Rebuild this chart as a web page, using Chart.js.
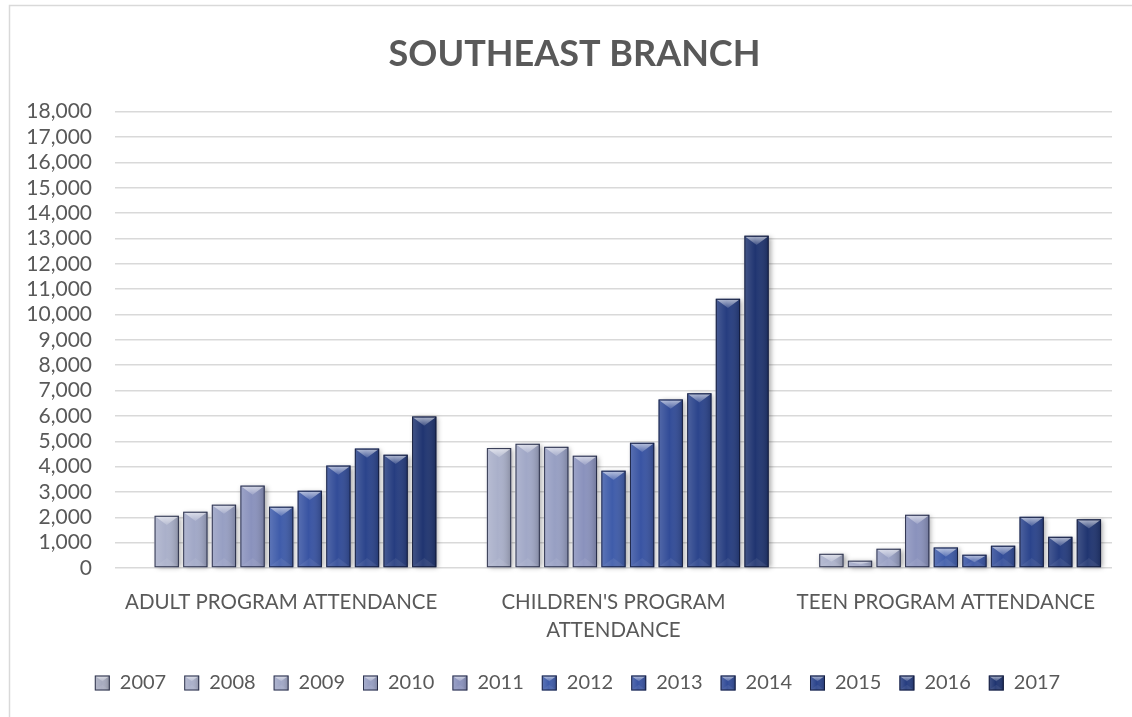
<!DOCTYPE html>
<html>
<head>
<meta charset="utf-8">
<script src="https://cdn.jsdelivr.net/npm/chart.js@4/dist/chart.umd.min.js"></script>
<style>
  html, body { margin: 0; padding: 0; background: #fff; }
  #wrap { width: 1132px; height: 717px; }
</style>
</head>
<body>
<div id="wrap"><canvas id="chart" width="1132" height="717"></canvas></div>
<script>
// attendance by program, one series per year
const programs = ['ADULT PROGRAM ATTENDANCE', ["CHILDREN'S PROGRAM", 'ATTENDANCE'], 'TEEN PROGRAM ATTENDANCE'];
const years = ['2007', '2008', '2009', '2010', '2011', '2012', '2013', '2014', '2015', '2016', '2017'];

const adult    = [null, 2060, 2220, 2500, 3250, 2420, 3050, 4040, 4710, 4470, 5980];
const children = [null, 4730, 4900, 4780, 4430, 3840, 4940, 6650, 6890, 10620, 13110];
const teen     = [null, 560, 290, 760, 2100, 810, 525, 880, 2020, 1230, 1920];

const yearColors = ['#a7abbf', '#aab0ca', '#a1a8c7', '#979fc3', '#8a92bd', '#3f5caa',
                    '#3954a3', '#324c98', '#2b448c', '#263d80', '#203571'];

const TEXT = '#595959';
const FONT = 'Lato';

const datasets = years.map((yr, i) => ({
  label: yr,
  data: [adult[i], children[i], teen[i]],
  backgroundColor: yearColors[i],
  borderWidth: 0,
  categoryPercentage: 0.947,
  barPercentage: 0.85
}));

// bevelled look: lighter top facet, side shading, dark edge
function bevel(ctx, l, t, w, h) {
  const r = l + w, b = t + h, cx = l + w / 2;
  const g = ctx.createLinearGradient(l, 0, r, 0);
  g.addColorStop(0, 'rgba(255,255,255,0.16)');
  g.addColorStop(0.45, 'rgba(255,255,255,0)');
  g.addColorStop(1, 'rgba(0,0,0,0.2)');
  ctx.fillStyle = g;
  ctx.fillRect(l, t, w, h);

  const d = Math.min(w * 0.38, h * 0.6);
  const tg = ctx.createLinearGradient(0, t, 0, t + d);
  tg.addColorStop(0, 'rgba(255,255,255,0.65)');
  tg.addColorStop(1, 'rgba(255,255,255,0.15)');
  ctx.fillStyle = tg;
  ctx.beginPath();
  ctx.moveTo(l + 1, t + 1);
  ctx.lineTo(r - 1, t + 1);
  ctx.lineTo(cx, t + d);
  ctx.closePath();
  ctx.fill();

  ctx.fillStyle = 'rgba(255,255,255,0.07)';
  ctx.beginPath();
  ctx.moveTo(l + 1, b - 1);
  ctx.lineTo(r - 1, b - 1);
  ctx.lineTo(cx, b - d);
  ctx.closePath();
  ctx.fill();

  ctx.strokeStyle = 'rgba(18,22,48,0.8)';
  ctx.lineWidth = 1;
  ctx.strokeRect(l + 0.5, t + 0.5, w - 1, h - 1);
}

function eachBar(chart, fn) {
  chart.data.datasets.forEach((ds, i) => {
    chart.getDatasetMeta(i).data.forEach((bar, j) => {
      if (ds.data[j] == null) return;
      const { x, y, base, width } = bar.getProps(['x', 'y', 'base', 'width'], true);
      fn(x - width / 2, y, width, base - y);
    });
  });
}

const barStyle = {
  id: 'barStyle',
  afterLayout(chart) {
    // nudge title and legend to the right
    chart.titleBlock.left += 14;
    chart.titleBlock.right += 14;
    chart.legend.left += 17;
    chart.legend.right += 17;
  },
  beforeDraw(chart) {
    const { ctx, width, height } = chart;
    ctx.save();
    ctx.fillStyle = '#fff';
    ctx.fillRect(0, 0, width, height);
    ctx.strokeStyle = '#d9d9d9';
    ctx.lineWidth = 1.5;
    ctx.strokeRect(9.5, 5.5, width + 20, height + 20);
    ctx.restore();
  },
  beforeDatasetsDraw(chart) {
    const ctx = chart.ctx;
    ctx.save();
    ctx.shadowColor = 'rgba(0,0,0,0.35)';
    ctx.shadowBlur = 5;
    ctx.shadowOffsetX = 2;
    ctx.shadowOffsetY = 1;
    ctx.fillStyle = '#fff';
    eachBar(chart, (l, t, w, h) => ctx.fillRect(l, t, w, h));
    ctx.restore();
  },
  afterDatasetsDraw(chart) {
    const ctx = chart.ctx;
    ctx.save();
    eachBar(chart, (l, t, w, h) => bevel(ctx, l, t, w, h));
    ctx.restore();
  },
  afterDraw(chart) {
    const lg = chart.legend;
    if (!lg || !lg.legendHitBoxes) return;
    const ctx = chart.ctx;
    const bw = lg.options.labels.boxWidth;
    ctx.save();
    lg.legendHitBoxes.forEach((hb) => {
      bevel(ctx, hb.left, hb.top + (hb.height - bw) / 2, bw, bw);
    });
    ctx.restore();
  }
};

new Chart(document.getElementById('chart'), {
  type: 'bar',
  data: { labels: programs, datasets },
  plugins: [barStyle],
  options: {
    responsive: false,
    animation: false,
    layout: { padding: { left: 9, right: 20, top: 6, bottom: 14 } },
    plugins: {
      title: {
        display: true,
        text: 'SOUTHEAST BRANCH',
        color: TEXT,
        font: { family: FONT, size: 36, weight: 'bold' },
        padding: { top: 27, bottom: 35.5 }
      },
      legend: {
        position: 'bottom',
        labels: {
          color: TEXT,
          font: { family: FONT, size: 20 },
          boxWidth: 15,
          boxHeight: 15,
          padding: 18
        }
      },
      tooltip: { enabled: false }
    },
    scales: {
      x: {
        grid: { display: false, drawTicks: false },
        border: { display: false },
        ticks: {
          color: TEXT,
          font: { family: FONT, size: 20.5, lineHeight: 1.37 },
          padding: 20,
          maxRotation: 0,
          autoSkip: false
        },
        afterFit: (s) => { s.height = 87; }
      },
      y: {
        min: 0,
        max: 18000,
        grid: { color: '#d9d9d9', lineWidth: 1.5, drawTicks: false },
        border: { display: false },
        ticks: {
          stepSize: 1000,
          autoSkip: false,
          color: TEXT,
          font: { family: FONT, size: 21 },
          padding: 23,
          callback: (v) => v.toLocaleString('en-US')
        },
        afterFit: (s) => { s.width = 106; }
      }
    }
  }
});
</script>
</body>
</html>
